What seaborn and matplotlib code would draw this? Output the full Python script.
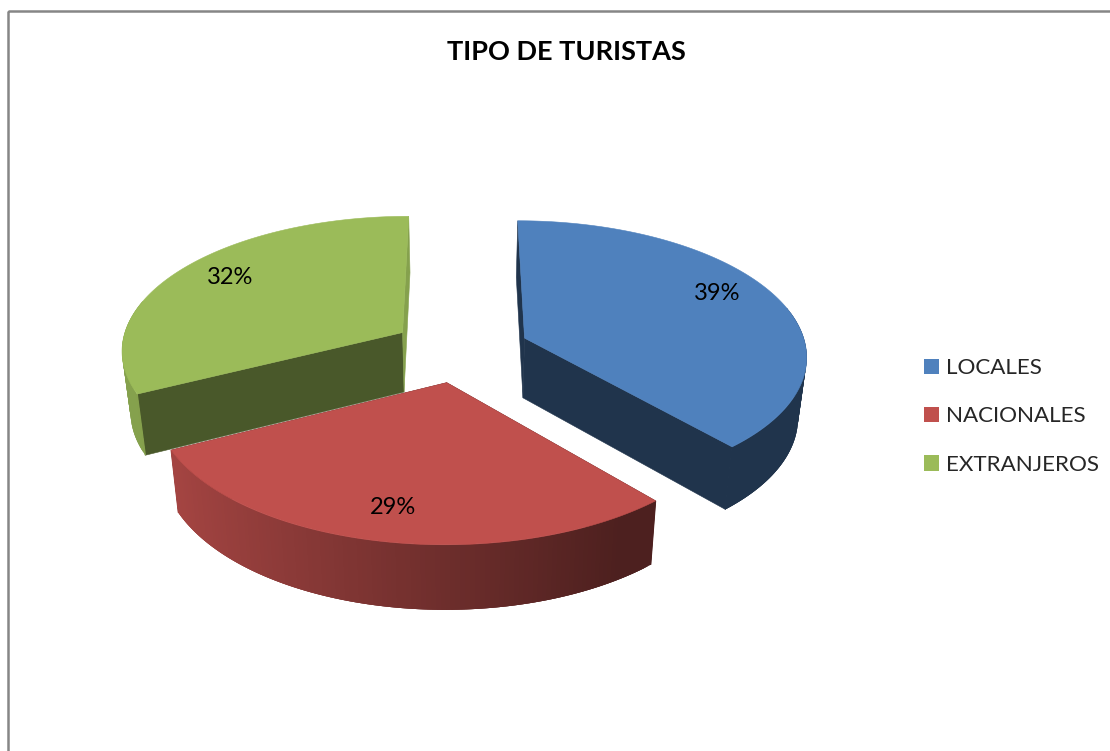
import numpy as np
import pandas as pd
import seaborn as sns
import matplotlib
matplotlib.use("Agg")
import matplotlib.pyplot as plt
from matplotlib.patches import Patch, Rectangle

# ---- data ----
categories = ["LOCALES", "NACIONALES", "EXTRANJEROS"]
shares = [38.6, 29.0, 32.4]
# ---- style ----
hex_colors = ["#4F81BD", "#C0504D", "#9BBB59"]
label_px = [(717, 294), (393, 508), (230, 277)]
radial_shade = [(0.40, 0.40), (0.40, 0.40), (0.47, 0.86)]  # (start face, end face)
draw_order = [0, 2, 1]

sns.set_theme(style="white")
plt.rcParams["font.family"] = ["Lato", "DejaVu Sans"]
palette = sns.color_palette(hex_colors)

df = pd.DataFrame({"category": categories, "share": shares})
fracs = df["share"] / df["share"].sum()
ends = np.cumsum(fracs) * 2 * np.pi
starts = ends - fracs * 2 * np.pi

# projection parameters (px)
CX, CY, FX, FY, K = 460.5, 349.5, 282.0, 134.0, 0.12
EXPLODE, DEPTH, SHRINK = 0.245, 60.0, 0.975


def project(X, Y):
    s = 1.0 / (1.0 - K * Y)
    return CX + FX * X * s, CY + FY * Y * s, s


def project_bottom(X, Y):
    x, y, s = project(X, Y)
    return CX + (x - CX) * SHRINK, y + DEPTH * np.sqrt(s)


def rim_shade(X):
    return float(np.clip(0.86 + (X + 0.9) * (0.40 - 0.86) / 1.45, 0.40, 0.86))


fig = plt.figure(figsize=(11.10, 7.51), dpi=100, facecolor="white")
ax = fig.add_axes([0, 0, 1, 1])
ax.set_xlim(0, 1110)
ax.set_ylim(751, 0)
ax.axis("off")

# chart frame
ax.add_patch(Rectangle((8, 11), 1200, 900, fill=False, ec="#868686", lw=1.8, zorder=0))


def shaded(c, f):
    return tuple(v * f for v in c)


for i in draw_order:
    a0, a1 = starts.iloc[i], ends.iloc[i]
    mid = 0.5 * (a0 + a1)
    ox, oy = EXPLODE * np.sin(mid), -EXPLODE * np.cos(mid)
    col = palette[i]
    base = draw_order.index(i) * 10 + 1

    def outer(a):
        return ox + np.sin(a), oy - np.cos(a)

    # radial faces
    for a, sh in zip((a0, a1), radial_shade[i]):
        X, Y = outer(a)
        t = project(np.array([ox, X]), np.array([oy, Y]))
        b = project_bottom(np.array([ox, X]), np.array([oy, Y]))
        c = shaded(col, sh)
        ax.fill([t[0][0], t[0][1], b[0][1], b[0][0]],
                [t[1][0], t[1][1], b[1][1], b[1][0]], color=c, ec=c, lw=0.4, zorder=base)

    # curved rim: only the part turned towards the viewer, each strip overlapping the last
    ang = np.linspace(a0, a1, 121)
    ang = ang[np.cos(ang) < 0.25]
    if len(ang) > 3:
        for j in range(len(ang) - 1):
            seg = ang[j:j + 4]
            X, Y = outer(seg)
            tx, ty, _ = project(X, Y)
            bx, by = project_bottom(X, Y)
            c = shaded(col, rim_shade(np.sin(ang[j])))
            ax.fill(np.r_[tx, bx[::-1]], np.r_[ty, by[::-1]], color=c, lw=0, zorder=base + 1)
        # close the seam between the rim and the flat faces
        for a in (ang[0], ang[-1]):
            X, Y = outer(a)
            tx, ty, _ = project(X, Y)
            bx, by = project_bottom(X, Y)
            ax.plot([tx, bx], [ty, by], color=shaded(col, rim_shade(np.sin(a))), lw=0.9,
                    solid_capstyle="butt", zorder=base + 1)

    # top surface
    ang = np.linspace(a0, a1, 200)
    X, Y = outer(ang)
    px, py, _ = project(np.r_[ox, X], np.r_[oy, Y])
    ax.fill(px, py, color=col, ec=col, lw=0.4, zorder=base + 2)

    ax.text(label_px[i][0], label_px[i][1], f"{df['share'][i]:.0f}%", ha="center", va="center",
            fontsize=17, color="black", zorder=50)

ax.text(566, 52, "TIPO DE TURISTAS", ha="center", va="center",
        fontsize=19.5, fontweight="bold", color="black", zorder=50)

handles = [Patch(facecolor=c, edgecolor="none") for c in palette]
ax.legend(handles, categories, loc="center left", bbox_to_anchor=(924 / 1110, 1 - 416.5 / 751),
          frameon=False, fontsize=16.1, handlelength=0.67, handleheight=0.67,
          handletextpad=0.31, labelspacing=1.27, borderpad=0, borderaxespad=0)

fig.savefig("out.png", dpi=100)
